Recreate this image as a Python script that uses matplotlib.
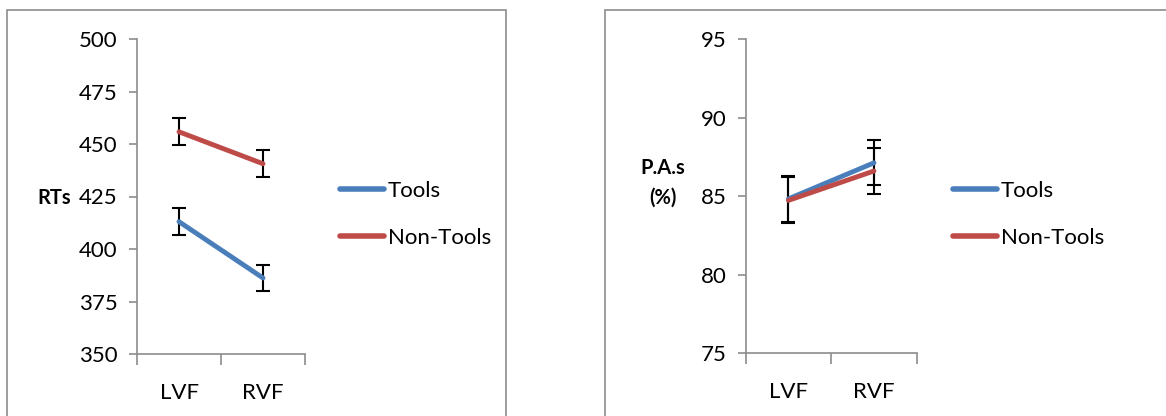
import matplotlib
matplotlib.use("Agg")
import matplotlib.pyplot as plt
from matplotlib.patches import Rectangle
from matplotlib.lines import Line2D

categories = ["LVF", "RVF"]
series = ["Tools", "Non-Tools"]

rt_tools = [413.0, 386.2]
rt_nontools = [455.8, 440.6]
rt_tools_err = [6.3, 6.4]
rt_nontools_err = [6.5, 6.4]

pa_tools = [84.83, 87.12]
pa_nontools = [84.73, 86.6]
pa_tools_err = [1.45, 1.43]
pa_nontools_err = [1.47, 1.44]

rt_ticks = [350, 375, 400, 425, 450, 475, 500]
pa_ticks = [75, 80, 85, 90, 95]

colors = ["#4a7ebb", "#be4b48"]
plt.rcParams['font.family'] = ['Lato', 'DejaVu Sans']

W, H = 1166, 416
FS = 16
fig = plt.figure(figsize=(W / 100, H / 100), dpi=100)

# panel borders
for (x0, x1) in [(7, 506), (605, 1170)]:
    fig.patches.append(Rectangle((x0 / W, -0.05), (x1 - x0) / W, (H - 10) / H + 0.05,
                                 transform=fig.transFigure, fill=False,
                                 edgecolor="#8c8c8c", linewidth=1.2))

def panel(rect, yvals, errs, ticks, ylabel, label_xy, leg_x):
    ax = fig.add_axes(rect)
    xs = [0.5, 1.5]
    for vals, err, c, name in zip(yvals, errs, colors, series):
        ax.errorbar(xs, vals, yerr=err, color=c, lw=3.5, ecolor="black",
                    elinewidth=1.5, capsize=5, capthick=1.5, label=name,
                    solid_capstyle="round", zorder=3)
    ax.set_xlim(0, 2)
    ax.set_ylim(ticks[0], ticks[-1])
    ax.set_yticks(ticks)
    ax.set_yticklabels([str(t) for t in ticks], fontsize=FS)
    ax.set_xticks([0, 1, 2])
    ax.set_xticklabels([])
    ax.set_xticks(xs, minor=True)
    ax.set_xticklabels(categories, minor=True, fontsize=FS)
    ax.tick_params(axis="x", which="minor", length=0, pad=21)
    ax.tick_params(axis="x", which="major", length=8, color="#8c8c8c", width=1.2, direction="out")
    ax.tick_params(axis="y", length=6, color="#8c8c8c", width=1.2, pad=8)
    for s in ["top", "right"]:
        ax.spines[s].set_visible(False)
    for s in ["left", "bottom"]:
        ax.spines[s].set_color("#8c8c8c")
        ax.spines[s].set_linewidth(1.2)
    fig.text(label_xy[0] / W, 1 - label_xy[1] / H, ylabel, fontsize=14.5,
             fontweight="bold", ha="center", va="center", linespacing=1.6)
    hs = [Line2D([0], [0], color=c, lw=4, solid_capstyle="round") for c in colors]
    fig.legend(hs, series, loc="upper left", bbox_to_anchor=(leg_x / W, 1 - 181 / H),
               frameon=False, fontsize=FS, handlelength=2.0, handletextpad=0.15,
               labelspacing=1.2, borderaxespad=0, borderpad=0)
    return ax

panel([137 / W, 1 - 354 / H, (305 - 137) / W, (354 - 39) / H],
      [rt_tools, rt_nontools], [rt_tools_err, rt_nontools_err], rt_ticks,
      "RTs", (54, 198), 340)
panel([745.7 / W, 1 - 353.3 / H, (916.7 - 745.7) / W, (353.3 - 39) / H],
      [pa_tools, pa_nontools], [pa_tools_err, pa_nontools_err], pa_ticks,
      "P.A.s\n(%)", (663, 183), 953)

fig.savefig("out.png", dpi=100)
